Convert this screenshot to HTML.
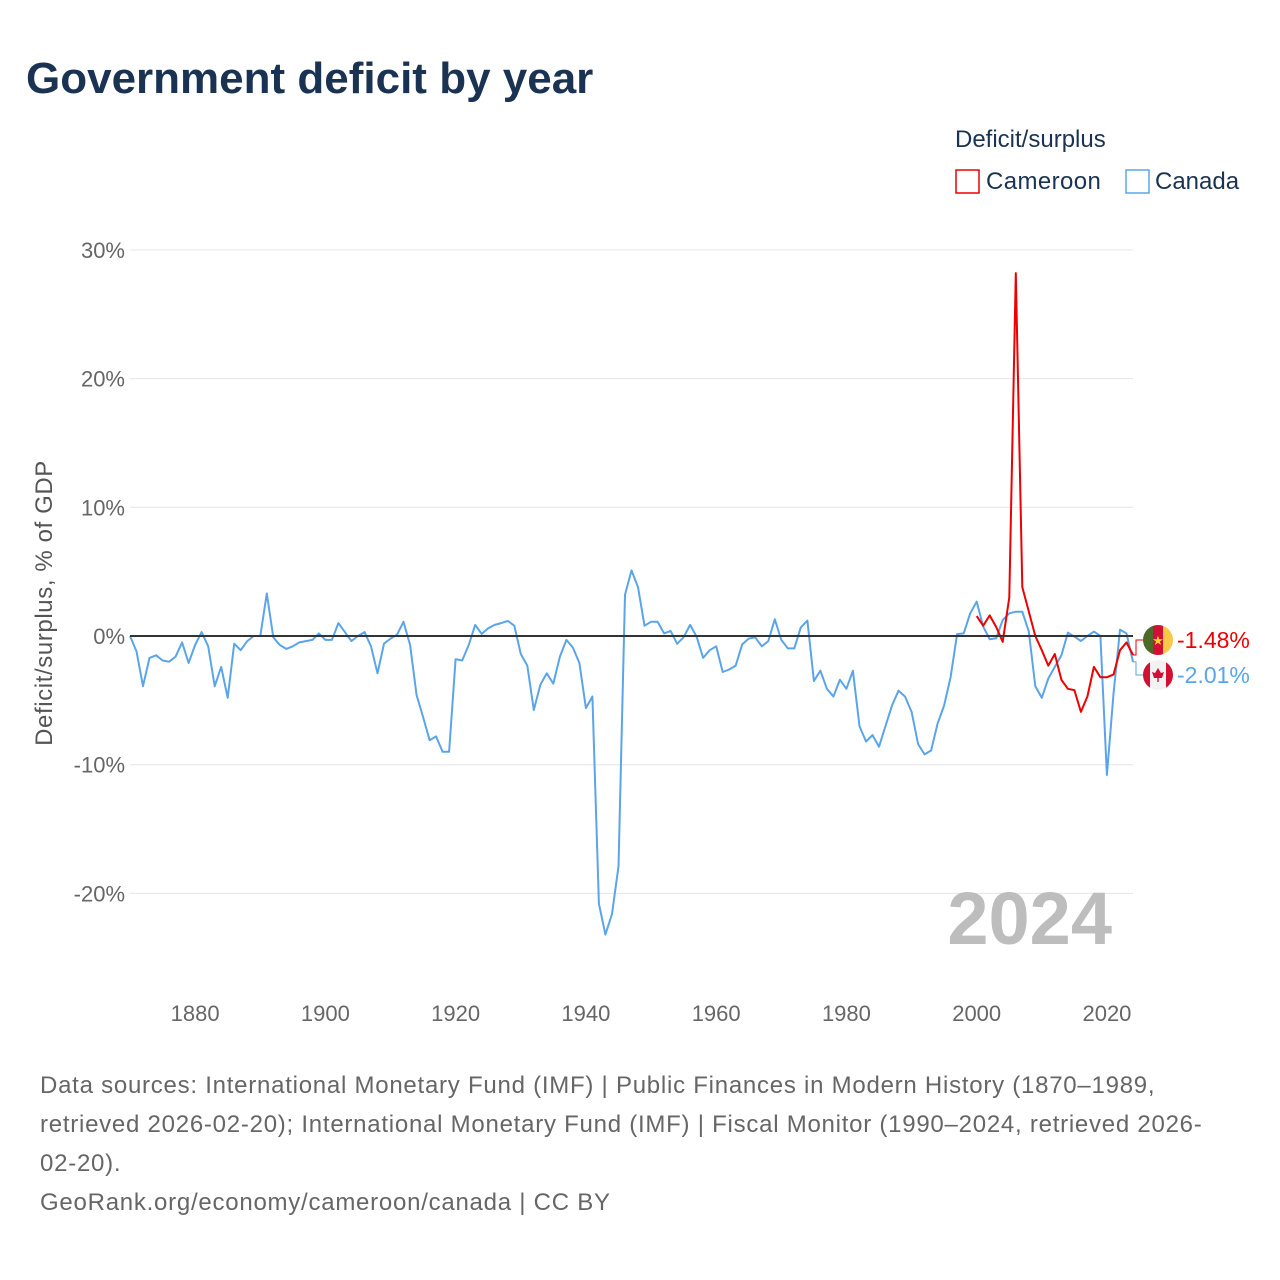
<!DOCTYPE html>
<html><head><meta charset="utf-8">
<style>
body{margin:0;background:#fff;width:1280px;height:1280px;overflow:hidden;font-family:"Liberation Sans",sans-serif;}
svg{display:block}
</style></head>
<body>
<svg id="chart" width="1280" height="1280" viewBox="0 0 1280 1280" xmlns="http://www.w3.org/2000/svg">
<text x="26" y="93" font-size="44" font-weight="bold" fill="#1a3352">Government deficit by year</text>
<g>
<text x="955" y="147" font-size="24" fill="#1a3352">Deficit/surplus</text>
<rect x="956" y="170" width="23" height="23" fill="none" stroke="#ee0000" stroke-width="1.5"/>
<text x="986" y="189" font-size="24" fill="#1a3352" letter-spacing="0.4">Cameroon</text>
<rect x="1126" y="170" width="23" height="23" fill="none" stroke="#5aa5ea" stroke-width="1.5"/>
<text x="1155" y="189" font-size="24" fill="#1a3352">Canada</text>
</g>
<g id="grid"></g>
<g id="series"></g>
<text x="-603" y="52" transform="rotate(-90)" text-anchor="middle" font-size="24" letter-spacing="0.6" fill="#555">Deficit/surplus, % of GDP</text>
<text x="1112" y="944" text-anchor="end" font-size="74" font-weight="bold" fill="#bdbdbd">2024</text>
<g font-size="24" fill="#666" letter-spacing="0.75">
<text x="40" y="1093">Data sources: International Monetary Fund (IMF) | Public Finances in Modern History (1870–1989,</text>
<text x="40" y="1132">retrieved 2026-02-20); International Monetary Fund (IMF) | Fiscal Monitor (1990–2024, retrieved 2026-</text>
<text x="40" y="1171">02-20).</text>
<text x="40" y="1210">GeoRank.org/economy/cameroon/canada | CC BY</text>
</g>
</svg>
<script>
const yTicks=[30,20,10,0,-10,-20];
const xTicks=[1880,1900,1920,1940,1960,1980,2000,2020];
const canadaStart=1870;
const canada=[0,-1.2,-3.9,-1.7,-1.5,-1.9,-2.0,-1.6,-0.5,-2.1,-0.7,0.3,-0.8,-3.9,-2.4,-4.8,-0.6,-1.1,-0.4,0,0,3.3,-0.1,-0.7,-1.0,-0.8,-0.5,-0.4,-0.3,0.2,-0.3,-0.3,1.0,0.3,-0.4,0,0.3,-0.8,-2.9,-0.6,-0.2,0.1,1.1,-0.7,-4.6,-6.3,-8.1,-7.8,-9.0,-9.0,
-1.8,-1.9,-0.7,0.86,0.16,0.6,0.86,1.0,1.17,0.8,-1.4,-2.3,-5.75,-3.8,-2.9,-3.7,-1.6,-0.3,-0.9,-2.1,-5.6,-4.7,-20.8,-23.2,-21.6,-17.9,3.2,5.1,3.8,0.8,1.1,1.1,0.2,0.4,-0.6,-0.1,0.86,-0.05,-1.7,-1.1,-0.8,-2.8,-2.6,-2.3,-0.65,-0.2,-0.1,-0.8,-0.4,1.3,-0.3,-0.96,-0.96,0.67,1.2,-3.5,-2.7,-4.1,-4.7,-3.4,-4.1,-2.7,-7.0,-8.2,-7.7,-8.6,-7.0,-5.4,-4.25,-4.7,-5.9,-8.4,-9.2,-8.9,-6.8,-5.4,-3.2,0.15,0.2,1.76,2.67,0.73,-0.26,-0.18,1.24,1.76,1.89,1.89,0.34,-3.9,-4.8,-3.3,-2.4,-1.5,0.26,-0.05,-0.39,0,0.34,0,-10.8,-4.5,0.5,0.2,-2.01];
const cameroonStart=2000;
const cameroon=[1.55,0.8,1.6,0.7,-0.45,3.0,28.2,3.8,1.9,0.0,-1.1,-2.3,-1.4,-3.4,-4.1,-4.2,-5.9,-4.7,-2.4,-3.2,-3.2,-3.0,-1.1,-0.5,-1.48];
const X0=1870,X1=2024,PX0=130,PX1=1133;
function xs(y){return PX0+(y-X0)*(PX1-PX0)/(X1-X0);}
function ys(v){return 636-v*12.87;}
const NS='http://www.w3.org/2000/svg';
function el(t,a,p){const e=document.createElementNS(NS,t);for(const k in a)e.setAttribute(k,a[k]);p.appendChild(e);return e;}
const grid=document.getElementById('grid');
yTicks.forEach(v=>{
  if(v!==0){const l=el('line',{x1:PX0,x2:PX1,y1:ys(v),y2:ys(v),stroke:'#e6e6e6','stroke-width':1},grid);
  
  }
  const t=el('text',{x:125,y:ys(v)+8,'text-anchor':'end','font-size':22,fill:'#666'},grid);
  t.textContent=v+'%';
  
  
});
xTicks.forEach(v=>{
  const t=el('text',{x:xs(v),y:1021,'text-anchor':'middle','font-size':22,fill:'#666'},grid);
  t.textContent=v;
  
  
});
const ser=document.getElementById('series');
function line(data,start,color,name){
  const pts=data.map((v,i)=>xs(start+i).toFixed(1)+','+ys(v).toFixed(1)).join(' ');
  const p=el('polyline',{points:pts,fill:'none',stroke:color,'stroke-width':2,'stroke-linejoin':'round'},ser);
  
  
}
line(canada,canadaStart,'#5aa5ea','canada-line');
line(cameroon,cameroonStart,'#ee0000','cameroon-line');
const z=el('line',{x1:PX0,x2:PX1,y1:ys(0),y2:ys(0),stroke:'#333','stroke-width':2},ser);


const cv=cameroon[cameroon.length-1], kv=canada[canada.length-1];
const cy=640, ky=675;
const c1=el('polyline',{points:`${PX1},${ys(cv)} ${PX1+3},${ys(cv)} ${PX1+3},${cy} ${PX1+10},${cy}`,fill:'none',stroke:'#ee0000','stroke-width':1},ser);


const c2=el('polyline',{points:`${PX1},${ys(kv)} ${PX1+3},${ys(kv)} ${PX1+3},${ky} ${PX1+10},${ky}`,fill:'none',stroke:'#5aa5ea','stroke-width':1},ser);


const fc=el('g',{},ser);


el('clipPath',{id:'cc'},fc).appendChild(document.createElementNS(NS,'circle'));
const cc=document.querySelector('#cc circle');cc.setAttribute('cx',1158);cc.setAttribute('cy',cy);cc.setAttribute('r',15);
el('rect',{x:1143,y:cy-15,width:10,height:30,fill:'#4e6a2a','clip-path':'url(#cc)'},fc);
el('rect',{x:1153,y:cy-15,width:10,height:30,fill:'#d21034','clip-path':'url(#cc)'},fc);
el('rect',{x:1163,y:cy-15,width:10,height:30,fill:'#f7c948','clip-path':'url(#cc)'},fc);
el('text',{x:1158,y:cy+5,'text-anchor':'middle','font-size':13,fill:'#f7d02c'},fc).textContent='★';
const fk=el('g',{},ser);


el('clipPath',{id:'kc'},fk).appendChild(document.createElementNS(NS,'circle'));
const kc=document.querySelector('#kc circle');kc.setAttribute('cx',1158);kc.setAttribute('cy',ky);kc.setAttribute('r',15);
el('rect',{x:1143,y:ky-15,width:30,height:30,fill:'#f2f2f2','clip-path':'url(#kc)'},fk);
el('rect',{x:1143,y:ky-15,width:7,height:30,fill:'#d21034','clip-path':'url(#kc)'},fk);
el('rect',{x:1166,y:ky-15,width:7,height:30,fill:'#d21034','clip-path':'url(#kc)'},fk);
el('path',{d:`M1158 ${ky-7} L1161 ${ky-2} L1164 ${ky-3} L1162 ${ky+3} L1158.7 ${ky+3} L1158.7 ${ky+7} L1157.3 ${ky+7} L1157.3 ${ky+3} L1154 ${ky+3} L1152 ${ky-3} L1155 ${ky-2} Z`,fill:'#d21034'},fk);
const t1=el('text',{x:1177,y:cy+8,'font-size':23,fill:'#ee0000'},ser);
t1.textContent=cv.toFixed(2)+'%';


const t2=el('text',{x:1177,y:ky+8,'font-size':23,fill:'#5aa5ea'},ser);
t2.textContent=kv.toFixed(2)+'%';


</script>
</body></html>
